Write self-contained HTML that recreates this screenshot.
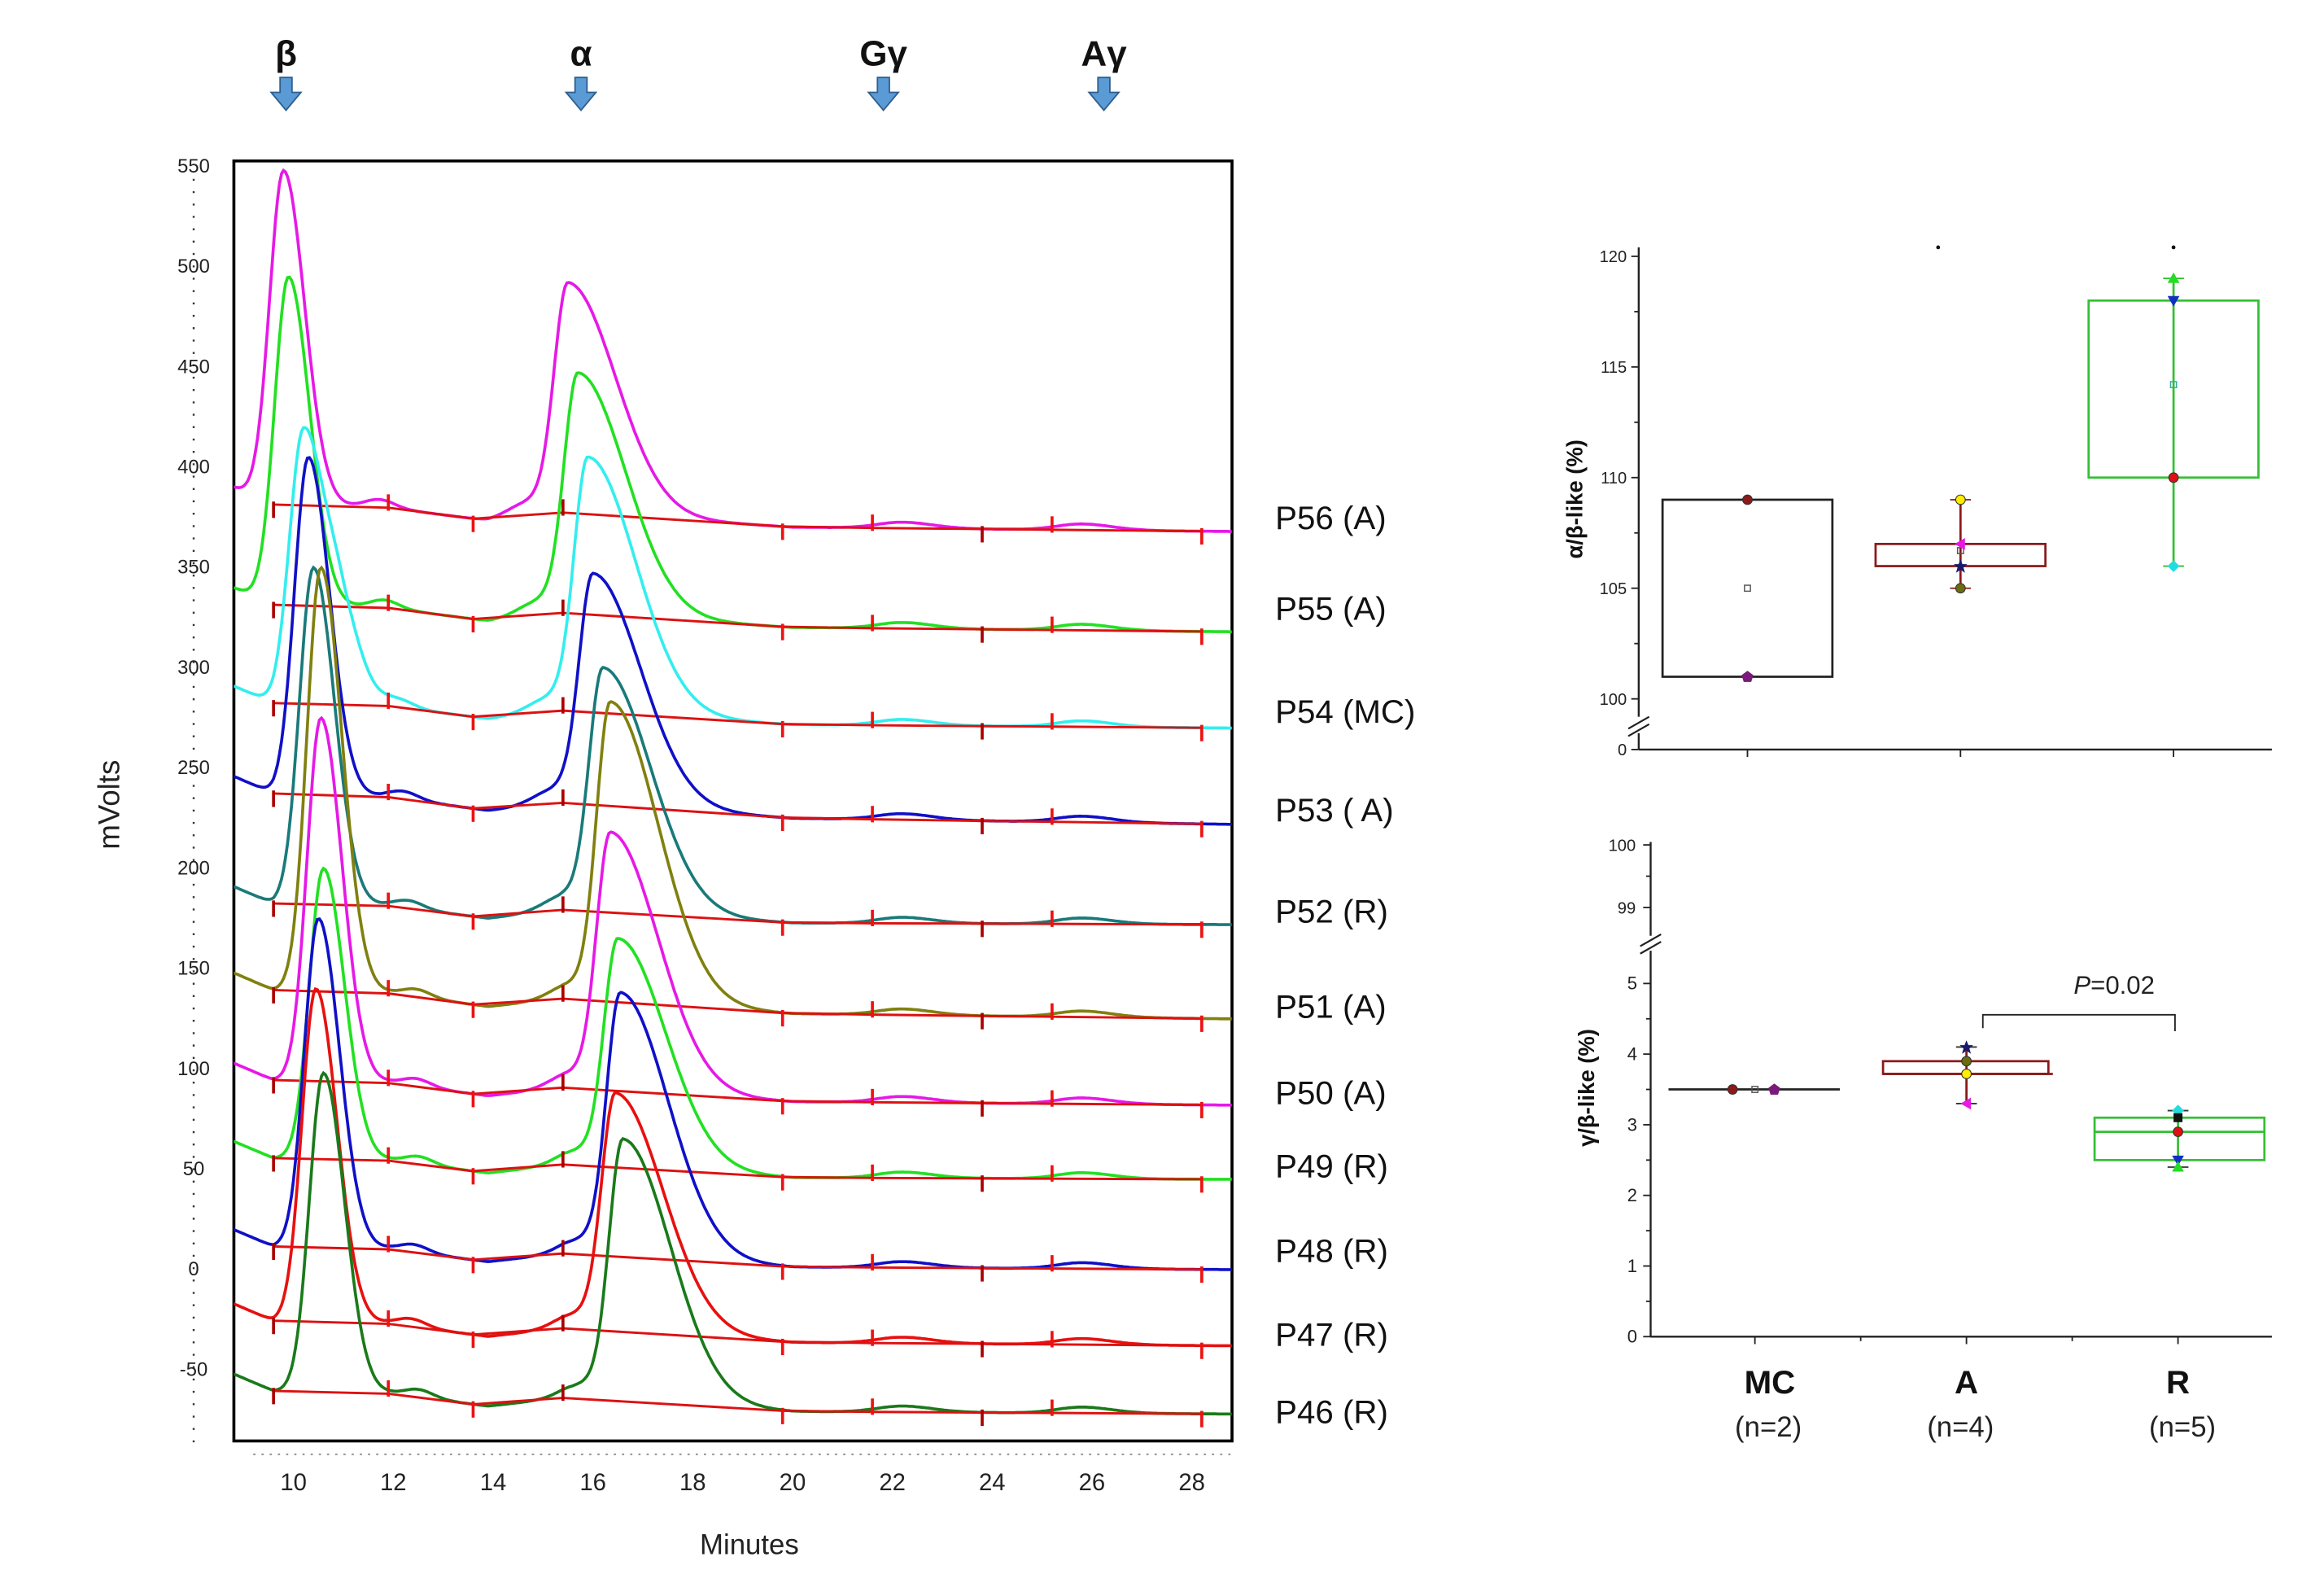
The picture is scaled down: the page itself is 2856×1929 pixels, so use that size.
<!DOCTYPE html>
<html><head><meta charset="utf-8"><style>
html,body{margin:0;padding:0;background:#fff;}
svg{display:block;font-family:"Liberation Sans",Arial,sans-serif;}
</style></head><body>
<svg id="fig" width="2856" height="1929" viewBox="0 0 1560 1053.6" preserveAspectRatio="none" xmlns="http://www.w3.org/2000/svg">
<defs><clipPath id="frameClip"><rect x="157" y="108" width="670" height="859"/></clipPath></defs>
<g id="chrom"></g>
<g id="box1"></g>
<g id="box2"></g>
</svg>
<script>
// ---------- Chromatogram data ----------
const traceNames = ["P56 (A)","P55 (A)","P54 (MC)","P53 ( A)","P52 (R)","P51 (A)","P50 (A)","P49 (R)","P48 (R)","P47 (R)","P46 (R)"];
const traceColors = ["#e619e6","#22e022","#33eeee","#1010c8","#1a7a7a","#808010","#e619e6","#22e022","#1010c8","#e81010","#1a7a1a"];
const baseStart = [382,332,283,238,183,140,95,56,12,-25,-60];
const baseEnd = [368,318,270,222,172,125,82,45,0,-38,-72];
const betaTime = [9.8,9.9,10.2,10.3,10.4,10.55,10.55,10.6,10.5,10.45,10.6];
const betaPeak = [548,495,418,405,350,350,275,200,175,140,98];
const alphaTime = [15.5,15.7,15.9,16.0,16.2,16.35,16.35,16.5,16.55,16.45,16.6];
const alphaPeak = [492,447,405,347,300,283,218,165,138,88,65];
const labelY = [347,408,477,543,611,675,733,782,839,895,947];
const yTicks = [550,500,450,400,350,300,250,200,150,100,50,0,-50];
const xTicks = [10,12,14,16,18,20,22,24,26,28];
const markerNames = ["β","α","Gγ","Aγ"];
const markerX = [192,390,593,741];
const redTickTimes = [9.6,11.9,13.6,15.4,19.8,21.6,23.8,25.2,28.2];
const driftTimes = [8.8,9.6,11.9,13.9,15.4,20,28.8];
const driftOffsets = [8,0,0,-5,0,-4,0];

// ---------- Box plot data ----------
const groups = ["MC","A","R"];
const groupN = ["(n=2)","(n=4)","(n=5)"];
const abBoxLow = [101,106,110];
const abBoxHigh = [109,107,118];
const abWhiskLow = [101,105,106];
const abWhiskHigh = [109,109,119];
const abMean = [105,106.7,114.2];
const abPoints = [[109,101],[109,107,106,105],[119,118,110,106]];
const gbBoxLow = [3.5,3.72,2.5];
const gbBoxHigh = [3.5,3.9,3.1];
const gbMedian = [3.5,3.72,2.9];
const gbWhiskLow = [3.5,3.3,2.4];
const gbWhiskHigh = [3.5,4.1,3.2];
const gbPoints = [[3.5,3.5],[4.1,3.9,3.72,3.3],[3.2,3.1,2.9,2.5,2.4]];
const groupColors = ["#222222","#8b1a1a","#33c033"];

const NS="http://www.w3.org/2000/svg";
function mk(parent,tag,attrs,text){const e=document.createElementNS(NS,tag);for(const k in attrs)e.setAttribute(k,attrs[k]);if(text!==undefined)e.textContent=text;parent.appendChild(e);return e;}

// ---------- Chromatogram ----------
const ch=document.getElementById('chrom');
const xT=t=>197+(t-10)*33.5;
const yV=v=>852-v*1.346;
const T0=8.8,T1=28.8;
function drift(t){
  for(let k=0;k<driftTimes.length-1;k++){
    if(t<=driftTimes[k+1]){const f=(t-driftTimes[k])/(driftTimes[k+1]-driftTimes[k]);return driftOffsets[k]+f*(driftOffsets[k+1]-driftOffsets[k]);}
  }
  return driftOffsets[driftOffsets.length-1];
}
function base(i,t){return baseStart[i]+(baseEnd[i]-baseStart[i])*(t-T0)/(T1-T0)+drift(t);}
function asym(t,c,wl,wr){const w=t<c?wl:wr;return Math.exp(-0.5*Math.pow((t-c)/w,2));}

let fr=mk(ch,'rect',{x:157,y:108,width:670,height:859,fill:'none',stroke:'#000','stroke-width':2});


let dl=mk(ch,'line',{x1:130,y1:120,x2:130,y2:968,stroke:'#333','stroke-width':1.3,'stroke-dasharray':'1.3 7'});


let dx=mk(ch,'line',{x1:170,y1:976,x2:827,y2:976,stroke:'#999','stroke-width':1.2,'stroke-dasharray':'1.5 4'});


yTicks.forEach(v=>{const e=mk(ch,'text',{x:130,y:yV(v)+4,'text-anchor':'middle','font-size':13,fill:'#222'},String(v));

});
xTicks.forEach(t=>{const e=mk(ch,'text',{x:xT(t),y:1000,'text-anchor':'middle','font-size':16,fill:'#222'},String(t));

});
let xl=mk(ch,'text',{x:503,y:1043,'text-anchor':'middle','font-size':19,fill:'#222'},'Minutes');


let yl=mk(ch,'text',{x:0,y:0,transform:'translate(80,540) rotate(-90)','text-anchor':'middle','font-size':20,fill:'#222'},'mVolts');


markerNames.forEach((m,k)=>{const g=mk(ch,'g',{});


const x=markerX[k];mk(g,'text',{x:x,y:44,'text-anchor':'middle','font-size':24,'font-weight':'bold',fill:'#111'},m);
mk(g,'path',{d:`M${x-4},52 h8 v10 h6 l-10,12 l-10,-12 h6 z`,fill:'#5b9bd5',stroke:'#2e5f8f','stroke-width':1});});

const cg=mk(ch,'g',{'clip-path':'url(#frameClip)'});
traceNames.forEach((nm,i)=>{
  const bAmp=betaPeak[i]-base(i,betaTime[i]);
  const aAmp=alphaPeak[i]-base(i,alphaTime[i]);
  let d='';
  for(let t=T0;t<=T1+0.001;t+=0.04){
    let v=base(i,t)+bAmp*asym(t,betaTime[i],0.28,0.42)+aAmp*asym(t,alphaTime[i],0.28,0.95)
      +4*asym(t,betaTime[i]+1.9,0.3,0.3)+7*asym(t,alphaTime[i]-0.8,0.4,0.3)+3*asym(t,22.2,0.5,0.6)+3*asym(t,25.8,0.5,0.6);
    if(i===2) v+=40*asym(t,10.95,0.3,0.4);
    d+=(d?'L':'M')+xT(t).toFixed(1)+','+yV(v).toFixed(1);
  }
  const p=mk(cg,'path',{d:d,fill:'none',stroke:traceColors[i],'stroke-width':2});
  
  
  let bd='';
  redTickTimes.forEach(t=>{bd+=(bd?'L':'M')+xT(t).toFixed(1)+','+yV(base(i,t)).toFixed(1);});
  const bl=mk(cg,'path',{d:bd,fill:'none',stroke:'#dd1111','stroke-width':1.6});
  
  
  redTickTimes.forEach((t,k)=>{const y=yV(base(i,t));const up=k%2===1;
    const tk=mk(cg,'line',{x1:xT(t),x2:xT(t),y1:up?y-9:y-2,y2:up?y+2:y+9,stroke:k%3===0?'#aa0000':'#ee1111','stroke-width':2});
    
    });
  const lb=mk(ch,'text',{x:856,y:labelY[i]+8,'font-size':22,fill:'#111'},nm);
  
  
});

// ---------- Box plots ----------
function marker(g,x,y,shape,color){
  let e;
  if(shape==='circle') e=mk(g,'circle',{cx:x,cy:y,r:3.2,fill:color,stroke:'#333','stroke-width':0.6});
  else if(shape==='up') e=mk(g,'path',{d:`M${x},${y-4}L${x+4},${y+3}L${x-4},${y+3}Z`,fill:color});
  else if(shape==='down') e=mk(g,'path',{d:`M${x},${y+4}L${x+4},${y-3}L${x-4},${y-3}Z`,fill:color});
  else if(shape==='left') e=mk(g,'path',{d:`M${x-4},${y}L${x+3},${y-4}L${x+3},${y+4}Z`,fill:color});
  else if(shape==='diamond') e=mk(g,'path',{d:`M${x},${y-4}L${x+4},${y}L${x},${y+4}L${x-4},${y}Z`,fill:color});
  else if(shape==='star') e=mk(g,'path',{d:`M${x},${y-4.5}L${x+1.3},${y-1.3}L${x+4.5},${y-1.3}L${x+2},${y+1}L${x+3},${y+4.5}L${x},${y+2.5}L${x-3},${y+4.5}L${x-2},${y+1}L${x-4.5},${y-1.3}L${x-1.3},${y-1.3}Z`,fill:color});
  else if(shape==='pent') e=mk(g,'path',{d:`M${x},${y-4}L${x+4},${y-1}L${x+2.5},${y+3.5}L${x-2.5},${y+3.5}L${x-4},${y-1}Z`,fill:color});
  else e=mk(g,'rect',{x:x-3,y:y-3,width:6,height:6,fill:color});
  
  
}
const shapes1=[['circle','pent'],['circle','left','star','circle'],['up','down','circle','diamond']];
const shapes2=[['circle','pent'],['star','circle','circle','left'],['diamond','square','circle','down','up']];
const ptColors1=[["#8b1a1a","#7a1a7a"],["#ffee00","#e619e6","#1a1a6a","#6b6b10"],["#22dd22","#1030c0","#e01010","#22dddd"]];
const ptColors2=[["#8b1a1a","#7a1a7a"],["#1a1a6a","#6b6b10","#ffee00","#e619e6"],["#22dddd","#111111","#e01010","#1030c0","#22dd22"]];

// Top plot
(function(){
  const g=document.getElementById('box1');
  const ax=1100, y0=503;
  const yv=v=>469-(v-100)*14.85;
  const gx=[1173,1316,1459];
  mk(g,'line',{x1:ax,y1:166,x2:ax,y2:481,stroke:'#222','stroke-width':1.3});
  mk(g,'line',{x1:ax,y1:492,x2:ax,y2:y0,stroke:'#222','stroke-width':1.3});
  mk(g,'path',{d:`M${ax-7},489 l14,-8 M${ax-7},494 l14,-8`,stroke:'#222','stroke-width':1.2});
  const xa=mk(g,'line',{x1:ax,y1:y0,x2:1525,y2:y0,stroke:'#222','stroke-width':1.3});
  
  
  [100,105,110,115,120].forEach(v=>{mk(g,'line',{x1:ax-5,x2:ax,y1:yv(v),y2:yv(v),stroke:'#222'});
    const t=mk(g,'text',{x:ax-8,y:yv(v)+4,'text-anchor':'end','font-size':11,fill:'#222'},String(v));
    
    });
  [102.5,107.5,112.5,117.5].forEach(v=>mk(g,'line',{x1:ax-3,x2:ax,y1:yv(v),y2:yv(v),stroke:'#222'}));
  mk(g,'line',{x1:ax-5,x2:ax,y1:y0,y2:y0,stroke:'#222'});
  mk(g,'text',{x:ax-8,y:y0+4,'text-anchor':'end','font-size':11,fill:'#222'},'0');
  gx.forEach(x=>mk(g,'line',{x1:x,x2:x,y1:y0,y2:y0+5,stroke:'#222'}));
  const t=mk(g,'text',{x:0,y:0,transform:'translate(1062,335) rotate(-90)','text-anchor':'middle','font-size':15,'font-weight':'bold',fill:'#111'},'α/β-like (%)');
  
  
  mk(g,'circle',{cx:1301,cy:166,r:1.3,fill:'#111'});mk(g,'circle',{cx:1459,cy:166,r:1.3,fill:'#111'});
  groups.forEach((gr,i)=>{
    const x=gx[i], c=groupColors[i];
    if(abWhiskHigh[i]>abBoxHigh[i]||abWhiskLow[i]<abBoxLow[i]){
      const wl=mk(g,'line',{x1:x,x2:x,y1:yv(abWhiskHigh[i]),y2:yv(abWhiskLow[i]),stroke:c,'stroke-width':1.5});
      
      
      [abWhiskHigh[i],abWhiskLow[i]].forEach(v=>mk(g,'line',{x1:x-7,x2:x+7,y1:yv(v),y2:yv(v),stroke:c}));
    }
    const b=mk(g,'rect',{x:x-57,y:yv(abBoxHigh[i]),width:114,height:yv(abBoxLow[i])-yv(abBoxHigh[i]),fill:'#fff','fill-opacity':0,stroke:c,'stroke-width':1.5});
    
    
    mk(g,'rect',{x:x-2,y:yv(abMean[i])-2,width:4,height:4,fill:'none',stroke:i===2?'#3aa':'#555','stroke-width':0.8});
    abPoints[i].forEach((v,k)=>marker(g,x,yv(v),shapes1[i][k],ptColors1[i][k]));
  });
})();

// Bottom plot
(function(){
  const g=document.getElementById('box2');
  const ax=1108, y0=897;
  const yv=v=>897-v*47.4;
  const yh=v=>567+(100-v)*42;
  const gx=[1178,1320,1462];
  mk(g,'line',{x1:ax,y1:565,x2:ax,y2:628,stroke:'#222','stroke-width':1.3});
  mk(g,'line',{x1:ax,y1:638,x2:ax,y2:y0,stroke:'#222','stroke-width':1.3});
  mk(g,'path',{d:`M${ax-7},635 l14,-8 M${ax-7},640 l14,-8`,stroke:'#222','stroke-width':1.2});
  const xa=mk(g,'line',{x1:ax,y1:y0,x2:1525,y2:y0,stroke:'#222','stroke-width':1.3});
  
  
  [0,1,2,3,4,5].forEach(v=>{mk(g,'line',{x1:ax-5,x2:ax,y1:yv(v),y2:yv(v),stroke:'#222'});
    const t=mk(g,'text',{x:ax-9,y:yv(v)+4,'text-anchor':'end','font-size':12,fill:'#222'},String(v));
    
    });
  [0.5,1.5,2.5,3.5,4.5].forEach(v=>mk(g,'line',{x1:ax-3,x2:ax,y1:yv(v),y2:yv(v),stroke:'#222'}));
  [100,99].forEach(v=>{mk(g,'line',{x1:ax-5,x2:ax,y1:yh(v),y2:yh(v),stroke:'#222'});
    mk(g,'text',{x:ax-10,y:yh(v)+4,'text-anchor':'end','font-size':11,fill:'#222'},String(v));});
  mk(g,'line',{x1:ax-3,x2:ax,y1:yh(99.5),y2:yh(99.5),stroke:'#222'});
  gx.forEach(x=>mk(g,'line',{x1:x,x2:x,y1:y0,y2:y0+5,stroke:'#222'}));
  [1249,1391].forEach(x=>mk(g,'line',{x1:x,x2:x,y1:y0,y2:y0+3,stroke:'#222'}));
  const t=mk(g,'text',{x:0,y:0,transform:'translate(1070,730) rotate(-90)','text-anchor':'middle','font-size':15,'font-weight':'bold',fill:'#111'},'γ/β-like (%)');
  
  
  groups.forEach((gr,i)=>{
    const x=gx[i], c=groupColors[i];
    if(i===0){
      const l=mk(g,'line',{x1:x-58,x2:x+57,y1:yv(gbMedian[i]),y2:yv(gbMedian[i]),stroke:c,'stroke-width':1.5});
      
      
      mk(g,'rect',{x:x-2,y:yv(gbMedian[i])-2,width:4,height:4,fill:'none',stroke:'#555','stroke-width':0.8});
      marker(g,x-15,yv(gbPoints[0][0]),'circle',ptColors2[0][0]);
      marker(g,x+13,yv(gbPoints[0][1]),'pent',ptColors2[0][1]);
    } else {
      const wl=mk(g,'line',{x1:x,x2:x,y1:yv(gbWhiskHigh[i]),y2:yv(gbWhiskLow[i]),stroke:c,'stroke-width':1.5});
      
      
      [gbWhiskHigh[i],gbWhiskLow[i]].forEach(v=>mk(g,'line',{x1:x-7,x2:x+7,y1:yv(v),y2:yv(v),stroke:'#333'}));
      const b=mk(g,'rect',{x:x-56,y:yv(gbBoxHigh[i]),width:i===2?114:111,height:yv(gbBoxLow[i])-yv(gbBoxHigh[i]),fill:'none',stroke:c,'stroke-width':1.5});
      
      
      mk(g,'line',{x1:x-56,x2:x+58,y1:yv(gbMedian[i]),y2:yv(gbMedian[i]),stroke:c,'stroke-width':1.5});
      gbPoints[i].forEach((v,k)=>marker(g,x,yv(v),shapes2[i][k],ptColors2[i][k]));
    }
    const lab=mk(g,'text',{x:[1188,1320,1462][i],y:935,'text-anchor':'middle','font-size':22,'font-weight':'bold',fill:'#111'},gr);
    
    
    const nn=mk(g,'text',{x:[1187,1316,1465][i],y:964,'text-anchor':'middle','font-size':19,fill:'#222'},groupN[i]);
    
    
  });
  const br=mk(g,'path',{d:'M1331,690 V681 H1460 V692',fill:'none',stroke:'#222','stroke-width':1});
  
  
  const pt=mk(g,'text',{x:1392,y:667,'font-size':17,fill:'#222'});
  
  
  mk(pt,'tspan',{'font-style':'italic'},'P');
  mk(pt,'tspan',{},'=0.02');
})();
</script>
</body></html>
